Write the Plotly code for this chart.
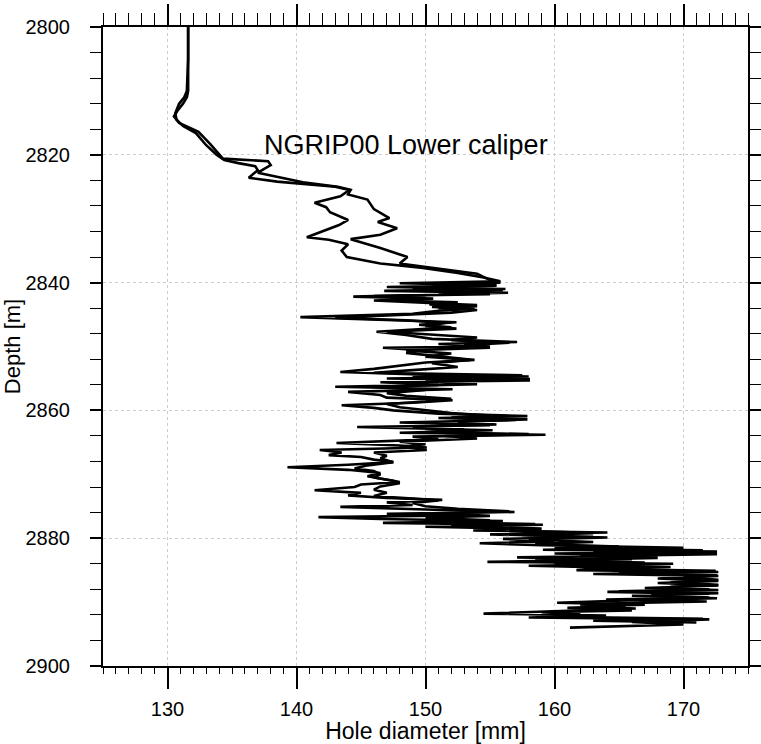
import plotly.graph_objects as go

# ---- data ----
depth_a = [2800, 2805, 2810, 2811, 2812, 2813.5, 2814.5, 2815.5, 2816.6, 2818.5, 2820, 2820.8,
           2821.3, 2821.8, 2822.4, 2823.6, 2824.2, 2825.0, 2825.5, 2826.5, 2827.5, 2828.2, 2829.0,
           2830.2, 2831.0, 2832.0, 2832.9, 2833.3, 2834.0, 2835.0, 2836.0, 2837.0, 2837.7, 2838.5,
           2839.2, 2839.8, 2840.1, 2840.4, 2840.7, 2841.0, 2841.3, 2841.6, 2841.9, 2842.2, 2842.5,
           2842.8, 2843.2, 2843.5, 2843.8, 2844.1, 2844.4, 2844.9, 2845.4, 2845.8, 2846.2, 2846.6,
           2847.0, 2847.7, 2848.2, 2848.8, 2849.3, 2849.6, 2850.0, 2850.2, 2850.6, 2851.0, 2851.6,
           2852.1, 2852.5, 2853.0, 2853.5, 2854.0, 2854.4, 2854.7, 2855.0, 2855.3, 2855.6, 2856.0,
           2856.3, 2856.7, 2857.1, 2857.6, 2858.0, 2858.4, 2858.8, 2859.2, 2859.6, 2860.0, 2860.5,
           2860.9, 2861.2, 2861.5, 2861.9, 2862.3, 2862.6, 2863.1, 2863.5, 2863.8, 2864.1, 2864.5,
           2865.1, 2865.5, 2865.8, 2866.2, 2866.6, 2867.0, 2867.3, 2867.7, 2868.1, 2868.5, 2868.9,
           2869.3, 2869.8, 2870.3, 2870.8, 2871.2, 2871.6, 2872.0, 2872.5, 2872.9, 2873.3, 2873.7,
           2874.0, 2874.4, 2874.8, 2875.1, 2875.5, 2875.9, 2876.2, 2876.4, 2876.7, 2877.0, 2877.3,
           2877.6, 2877.9, 2878.2, 2878.5, 2878.8, 2879.1, 2879.4, 2879.8, 2880.1, 2880.5, 2880.8,
           2881.1, 2881.5, 2881.8, 2882.1, 2882.4, 2882.7, 2883.0, 2883.3, 2883.7, 2884.0, 2884.3,
           2884.6, 2885.0, 2885.3, 2885.6, 2885.9, 2886.3, 2886.7, 2887.0, 2887.4, 2887.8, 2888.1,
           2888.4, 2888.7, 2889.0, 2889.4, 2889.7, 2890.1, 2890.4, 2890.7, 2891.0, 2891.4, 2891.8,
           2892.1, 2892.4, 2892.7, 2893.1, 2893.5, 2894.0]
dia_a = [131.6, 131.6, 131.5, 131.3, 130.9, 130.6, 130.7, 131.2, 132.2, 133.0, 133.8, 134.4,
         135.5, 136.8, 137.0, 136.3, 138.5, 143.0, 144.1, 143.4, 141.4, 142.3, 142.6,
         144.0, 143.3, 142.0, 140.8, 142.5, 144.0, 143.5, 143.9, 146.5, 149.8, 152.5,
         154.5, 155.8, 148.0, 155.5, 147.0, 156.2, 146.8, 156.4, 149.0, 144.4, 150.6,
         146.0, 150.3, 154.0, 150.5, 153.8, 151.0, 149.0, 140.3, 146.0, 152.4, 149.5,
         152.0, 146.2, 148.5, 150.5, 157.1, 151.0, 155.0, 146.7, 150.0, 148.5, 151.5,
         153.8, 150.0, 148.0, 146.0, 143.4, 150.0, 158.0, 147.0, 158.1, 146.5, 151.0,
         143.0, 152.1, 144.0, 146.5, 147.0, 152.1, 149.0, 143.5, 146.0, 147.5, 151.0,
         157.9, 151.0, 157.0, 148.0, 155.0, 144.7, 155.2, 148.0, 159.3, 149.0, 151.0,
         143.1, 148.0, 150.1, 141.8, 143.5, 142.5, 145.0, 146.0, 147.5, 144.0, 139.3,
         144.0, 146.5, 145.5, 147.0, 148.0, 145.0, 144.5, 141.4, 145.0, 144.0, 147.0,
         151.3, 147.0, 149.0, 143.4, 150.0, 156.9, 147.0, 154.0, 141.7, 146.5, 156.0,
         146.7, 159.1, 150.0, 157.0, 153.7, 164.1, 155.0, 163.0, 156.0, 160.0, 154.2,
         159.0, 170.0, 159.1, 172.6, 160.0, 168.0, 157.1, 166.0, 154.8, 169.2, 158.0,
         165.0, 161.7, 172.7, 163.0, 172.7, 168.0, 172.7, 168.0, 172.7, 167.0, 172.7,
         164.1, 172.0, 166.0, 172.6, 166.0, 160.2, 167.0, 162.0, 166.3, 160.0, 154.5,
         164.0, 158.0, 172.0, 166.0, 170.0, 161.2]

depth_b = [2800, 2810, 2811, 2812, 2813, 2814, 2815, 2816.4, 2818.3, 2820.6, 2821.0, 2821.6,
           2822.8, 2823.3, 2824.3, 2825.0, 2825.5, 2826.2, 2827.0, 2828.5, 2829.9, 2830.5, 2831.5,
           2832.5, 2833.2, 2834.6, 2836.0, 2837.0, 2837.7, 2838.6, 2839.6, 2840.0, 2840.2, 2840.5,
           2840.9, 2841.2, 2841.5, 2841.8, 2842.1, 2842.4, 2842.8, 2843.1, 2843.4, 2843.7, 2844.0,
           2844.3, 2844.7, 2845.1, 2845.5, 2845.9, 2846.3, 2846.8, 2847.2, 2847.7, 2848.1, 2848.6,
           2849.0, 2849.4, 2849.8, 2850.2, 2850.6, 2851.1, 2851.6, 2852.1, 2852.6, 2853.2, 2853.7,
           2854.1, 2854.5, 2854.8, 2855.1, 2855.5, 2855.9, 2856.3, 2856.8, 2857.3, 2857.7, 2858.2,
           2858.6, 2859.0, 2859.5, 2860.0, 2860.4, 2860.8, 2861.1, 2861.4, 2861.8, 2862.2, 2862.6,
           2863.0, 2863.4, 2863.7, 2864.0, 2864.4, 2864.9, 2865.3, 2865.7, 2866.2, 2866.6, 2867.1,
           2867.5, 2868.1, 2868.6, 2869.1, 2869.5, 2870.0, 2870.5, 2871.0, 2871.4, 2871.9, 2872.4,
           2872.9, 2873.4, 2873.8, 2874.1, 2874.5, 2875.0, 2875.4, 2875.8, 2876.1, 2876.5, 2876.8,
           2877.2, 2877.5, 2877.8, 2878.1, 2878.5, 2878.8, 2879.2, 2879.5, 2879.9, 2880.2, 2880.6,
           2880.9, 2881.3, 2881.6, 2881.9, 2882.2, 2882.5, 2882.8, 2883.1, 2883.5, 2883.8, 2884.1,
           2884.5, 2884.8, 2885.1, 2885.5, 2885.8, 2886.1, 2886.5, 2886.9, 2887.3, 2887.6, 2888.0,
           2888.3, 2888.6, 2888.9, 2889.3, 2889.6, 2889.9, 2890.3, 2890.6, 2890.9, 2891.3, 2891.6,
           2891.9, 2892.3, 2892.6, 2892.9, 2893.2]
dia_b = [131.6, 131.6, 131.5, 131.2, 130.8, 130.5, 130.9, 132.4, 133.3, 134.3, 137.8, 138.0,
         137.0, 138.2, 140.5, 143.2, 144.2, 144.0, 145.5, 146.0, 147.2, 146.3, 147.8,
         146.5, 144.2, 146.5, 148.6, 148.0, 150.5, 154.0, 155.0, 155.8, 152.0, 155.5,
         149.0, 156.0, 151.0, 155.0, 146.0, 150.0, 147.5, 152.5, 150.3, 154.0, 151.0,
         154.0, 152.0, 148.0, 143.0, 148.5, 151.5, 150.0, 152.4, 147.0, 150.5, 154.0,
         152.0, 156.5, 153.0, 155.0, 148.5, 152.0, 150.0, 153.5, 150.5, 152.5, 149.0,
         146.0, 157.5, 149.0, 158.1, 150.0, 154.0, 146.0, 150.0, 147.0, 148.5, 152.0,
         150.0, 147.0, 148.0, 150.5, 152.0, 155.0, 152.0, 157.9, 152.5, 155.5, 149.0,
         153.0, 150.0, 158.0, 151.5, 154.0, 148.0, 150.0, 148.0, 150.1, 146.0, 147.0,
         146.5, 147.5, 145.5, 144.5, 146.0, 146.5, 146.0, 147.5, 148.0, 146.5, 146.0,
         147.0, 146.0, 149.0, 151.0, 149.0, 150.0, 152.5, 156.5, 150.5, 155.0, 150.0,
         155.0, 151.0, 158.5, 152.0, 159.0, 157.0, 163.0, 157.5, 164.1, 158.0, 163.0,
         158.5, 165.0, 160.0, 171.5, 163.0, 172.6, 162.0, 168.0, 158.5, 167.0, 160.0,
         169.0, 162.5, 172.5, 165.0, 172.6, 170.0, 172.7, 169.0, 172.7, 169.0, 172.0,
         165.0, 172.7, 167.5, 172.0, 164.0, 171.8, 162.0, 165.5, 161.0, 166.0, 159.0,
         162.0, 160.0, 171.5, 163.0, 171.0]

x_ticks = [130, 140, 150, 160, 170]
y_ticks = [2800, 2820, 2840, 2860, 2880, 2900]
label_text = "NGRIP00 Lower caliper"
x_title = "Hole diameter [mm]"
y_title = "Depth [m]"

FONT = "Liberation Sans, Arial, sans-serif"
GRID = "#cccccc"

fig = go.Figure()
for xs, ys in ((dia_a, depth_a), (dia_b, depth_b)):
    fig.add_trace(go.Scatter(x=xs, y=ys, mode="lines",
                             line=dict(color="black", width=2.6),
                             showlegend=False, hoverinfo="skip"))

# invisible trace to bind the top axis
fig.add_trace(go.Scatter(x=[x_ticks[0]], y=[y_ticks[0]], xaxis="x2", mode="markers",
                         marker=dict(opacity=0), showlegend=False, hoverinfo="skip"))

fig.add_annotation(x=148.5, y=2818.4, text=label_text, showarrow=False,
                   font=dict(family=FONT, size=27, color="black"))

fig.update_layout(
    width=761, height=744,
    margin=dict(l=103, r=13, t=27, b=78),
    paper_bgcolor="white", plot_bgcolor="white",
    font=dict(family=FONT, color="black"),
    xaxis=dict(range=[125, 175], tickvals=x_ticks, ticks="outside", ticklen=21,
               tickwidth=1.5, tickcolor="black", showline=True, linewidth=2,
               linecolor="black", showgrid=True, gridcolor=GRID, griddash="dot",
               gridwidth=1, zeroline=False, tickfont=dict(size=20),
               ticklabelstandoff=3, automargin=False,
               minor=dict(dtick=1, ticks="outside", ticklen=6, tickwidth=1.3,
                          tickcolor="black", showgrid=False),
               title=dict(text=x_title, font=dict(size=23), standoff=4)),
    xaxis2=dict(range=[125, 175], overlaying="x", side="top", tickvals=x_ticks,
                ticks="outside", ticklen=21, tickwidth=1.5, tickcolor="black",
                showline=True, linewidth=2, linecolor="black", showgrid=False,
                showticklabels=False, zeroline=False, automargin=False,
                minor=dict(dtick=1, ticks="outside", ticklen=12, tickwidth=1.3,
                           tickcolor="black", showgrid=False)),
    yaxis=dict(range=[2900, 2800], tickvals=y_ticks, ticks="outside", ticklen=11,
               tickwidth=1.5, tickcolor="black", showline=True, linewidth=2,
               linecolor="black", mirror="ticks", showgrid=True, gridcolor=GRID,
               griddash="dot", gridwidth=1, zeroline=False, tickfont=dict(size=20),
               ticklabelstandoff=16, automargin=False,
               minor=dict(dtick=4, ticks="outside", ticklen=11, tickwidth=1.3,
                          tickcolor="black", showgrid=False),
               title=dict(text=y_title, font=dict(size=22), standoff=2)),
)

fig.write_html("out.html")
